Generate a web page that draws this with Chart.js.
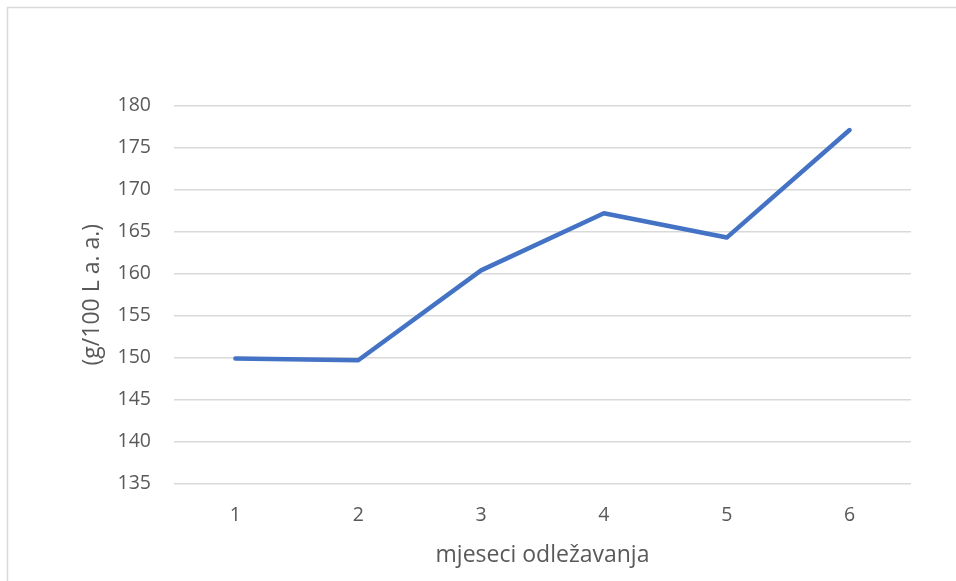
<!DOCTYPE html>
<html>
<head>
<meta charset="utf-8">
<script src="https://cdn.jsdelivr.net/npm/chart.js@4/dist/chart.umd.min.js"></script>
<style>
html,body{margin:0;padding:0;background:#fff;}
#wrap{position:relative;width:956px;height:581px;}
</style>
</head>
<body>
<div id="wrap"><canvas id="c" width="956" height="581"></canvas></div>
<script>
const categories = ["1", "2", "3", "4", "5", "6"];
const values = [149.9, 149.7, 160.4, 167.2, 164.3, 177.1];
const yMin = 135, yMax = 180, yStep = 5;
const xTitle = "mjeseci odležavanja";
const yTitle = "(g/100 L a. a.)";

const FONT = "'Open Sans', 'Noto Sans', 'Liberation Sans', sans-serif";
const TXT = "#595959";
const GRID = "#d9d9d9";

const frame = {
  id: 'frame',
  beforeDraw(chart) {
    const ctx = chart.ctx;
    ctx.save();
    ctx.fillStyle = '#fff';
    ctx.fillRect(0, 0, chart.width, chart.height);
    ctx.strokeStyle = GRID;
    ctx.lineWidth = 1.5;
    ctx.beginPath();
    ctx.moveTo(7.5, chart.height);
    ctx.lineTo(7.5, 7.5);
    ctx.lineTo(chart.width, 7.5);
    ctx.stroke();
    ctx.restore();
  }
};

new Chart(document.getElementById('c'), {
  type: 'line',
  data: {
    labels: categories,
    datasets: [{
      data: values,
      borderColor: '#4472c4',
      borderWidth: 4.5,
      pointRadius: 0,
      tension: 0,
      borderCapStyle: 'round',
      borderJoinStyle: 'round',
      fill: false
    }]
  },
  options: {
    responsive: false,
    animation: false,
    devicePixelRatio: 1,
    layout: { padding: { top: 105.7, right: 45, bottom: 12, left: 79 } },
    plugins: { legend: { display: false }, tooltip: { enabled: false } },
    scales: {
      x: {
        offset: true,
        grid: { display: false, drawTicks: false },
        border: { display: false },
        ticks: { color: TXT, font: { family: FONT, size: 19.5 }, padding: 20 },
        title: { display: true, text: xTitle, color: TXT, font: { family: FONT, size: 23 }, padding: { top: 5, bottom: 0 } },
        afterFit(s) { s.height = 581 - 483.7 - 12; }
      },
      y: {
        min: yMin, max: yMax,
        grid: { color: GRID, lineWidth: 1.5, drawTicks: false },
        border: { display: false },
        ticks: { stepSize: yStep, color: TXT, font: { family: FONT, size: 19.5 }, padding: 23 },
        title: { display: true, text: yTitle, color: TXT, font: { family: FONT, size: 23 }, padding: { top: 0, bottom: 0 } },
        afterFit(s) { s.width = 174 - 79; }
      }
    }
  },
  plugins: [frame]
});
</script>
</body>
</html>
